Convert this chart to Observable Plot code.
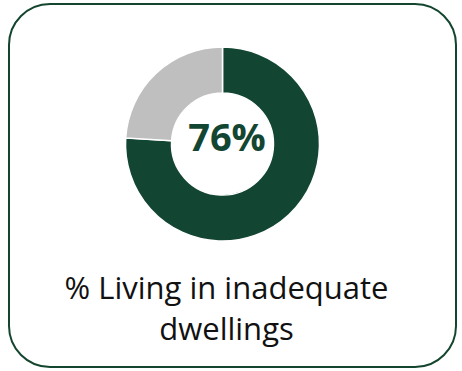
<!DOCTYPE html>
<html><head><meta charset="utf-8">
<script src="https://cdn.jsdelivr.net/npm/d3@7"></script>
<script src="https://cdn.jsdelivr.net/npm/@observablehq/plot@0.6"></script>
<style>
html,body{margin:0;padding:0;background:#fff;}
#card{position:absolute;left:8px;top:3px;width:445px;height:361px;border:2px solid #13452f;border-radius:42px;}
#chart{position:absolute;left:0;top:0;}
</style></head><body>
<div id="card"></div><div id="chart"></div>
<script>
// Data
const categories = ["Living in inadequate dwellings", "Other"];
const values = [76, 24];
const centerLabel = ["76%"];
const titleText = ["% Living in inadequate\ndwellings"];

// Style
const colors = ["#124532", "#bfbfbf"];
const innerFrac = 51 / 97;

function donut(index, scales) {
  const cx = scales.x(0), cy = scales.y(0);
  const R = scales.x(1) - cx;
  const arcs = d3.pie().sort(null).value(d => d)(values);
  const arc = d3.arc().innerRadius(R * innerFrac).outerRadius(R);
  const g = d3.create("svg:g").attr("transform", `translate(${cx},${cy})`);
  g.selectAll("path").data(arcs).join("path")
    .attr("d", arc)
    .attr("fill", (d, i) => colors[i])
    .attr("stroke", "#fff")
    .attr("stroke-width", 1.5);
  return g.node();
}

const plot = Plot.plot({
  width: 462,
  height: 371,
  margin: 0,
  style: {background: "transparent", fontFamily: "'Open Sans', sans-serif"},
  x: {domain: [-1, 1], range: [222.5 - 97, 222.5 + 97], axis: null},
  y: {domain: [-1, 1], range: [144 + 97, 144 - 97], axis: null},
  marks: [
    donut,
    Plot.text(centerLabel, {x: () => 0, y: () => 0, text: d => d, fontSize: 38, fontWeight: 700, fill: "#124532", dx: 4, dy: -6}),
    Plot.text(titleText, {frameAnchor: "bottom", text: d => d, fontSize: 31, lineHeight: 1.3, fill: "#111", dx: -5, dy: -32})
  ]
});
document.getElementById("chart").appendChild(plot);
</script>
</body></html>
